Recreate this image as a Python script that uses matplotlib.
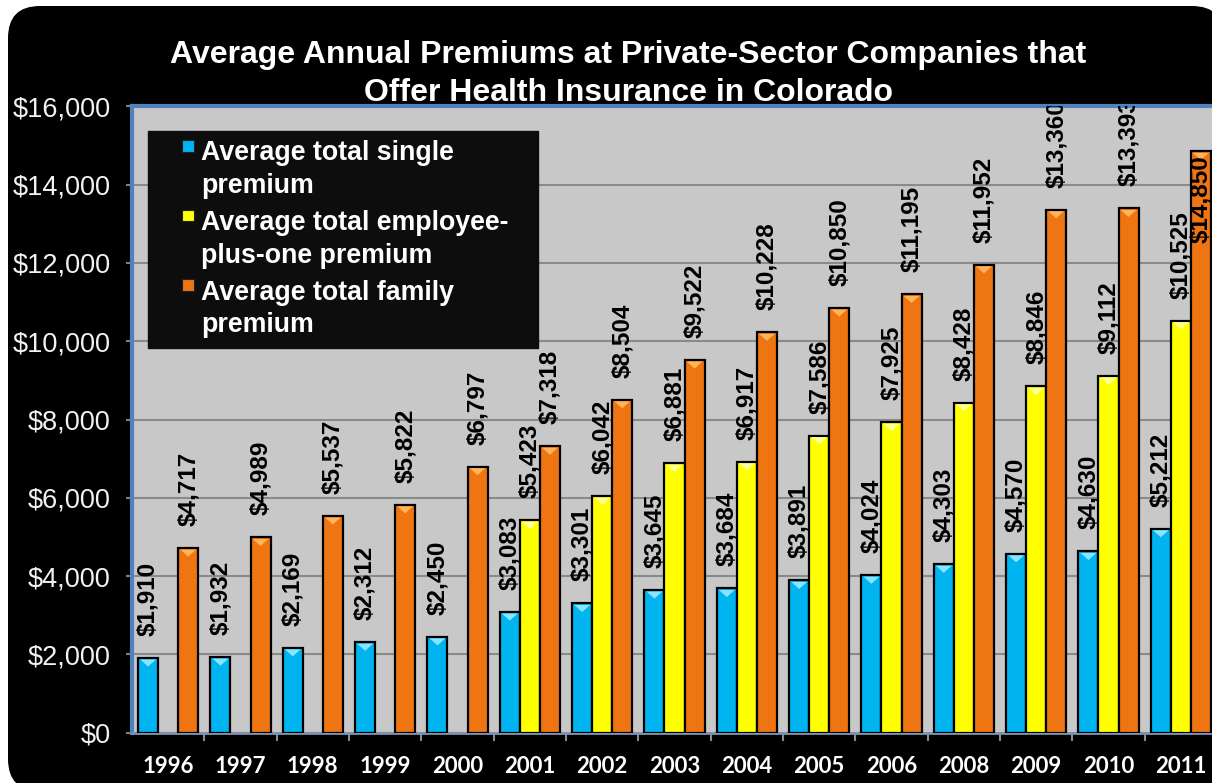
import matplotlib.pyplot as plt
import numpy as np
from matplotlib.patches import FancyBboxPatch, Rectangle, Patch
from matplotlib.legend_handler import HandlerBase
from matplotlib.transforms import IdentityTransform

# Average annual premiums (USD), Colorado private-sector employers
years = ['1996', '1997', '1998', '1999', '2000', '2001', '2002', '2003',
         '2004', '2005', '2006', '2008', '2009', '2010', '2011']
single = [1910, 1932, 2169, 2312, 2450, 3083, 3301, 3645, 3684, 3891,
          4024, 4303, 4570, 4630, 5212]
plus_one = [np.nan, np.nan, np.nan, np.nan, np.nan, 5423, 6042, 6881, 6917,
            7586, 7925, 8428, 8846, 9112, 10525]
family = [4717, 4989, 5537, 5822, 6797, 7318, 8504, 9522, 10228, 10850,
          11195, 11952, 13360, 13393, 14850]

series_names = ['Average total single\npremium',
                'Average total employee-\nplus-one premium',
                'Average total family\npremium']
colors = ['#00b4f0', '#ffff00', '#ef7412']
bevel_colors = ['#8be4ff', '#ffff9a', '#ffb45a']

ARIAL = 'Liberation Sans'


class SquareHandler(HandlerBase):
    # small square marker next to the first line of a wrapped label
    def create_artists(self, legend, orig_handle, xdescent, ydescent,
                       width, height, fontsize, trans):
        s = 0.42 * fontsize
        x0 = width - xdescent - s
        y0 = -ydescent + 1.05 * fontsize
        sq = Rectangle((x0, y0), s, s, facecolor=orig_handle.get_facecolor(),
                       edgecolor='#202020', linewidth=0.8, transform=trans)
        return [sq]


fig = plt.figure(figsize=(12.12, 7.83), dpi=100, facecolor='white')

# black rounded panel behind everything
panel = FancyBboxPatch((8, -8), 1216, 785,
                       boxstyle='round,pad=0,rounding_size=32',
                       transform=IdentityTransform(), facecolor='black',
                       edgecolor='none', zorder=-5)
fig.add_artist(panel)

ax = fig.add_axes([132 / 1212, 50.3 / 783, 1085 / 1212, 626.4 / 783])
ax.set_facecolor('#c8c8c8')

x = np.arange(len(years))
w = 0.277
bevel_h = 220  # depth of the lighter wedge at each bar top, in data units
all_series = [single, plus_one, family]
for i, (vals, c, bc) in enumerate(zip(all_series, colors, bevel_colors)):
    vals = np.array(vals, dtype=float)
    ok = ~np.isnan(vals)
    xs = x[ok] + (i - 1) * w
    ax.bar(xs, vals[ok], w, color=c, edgecolor='black', linewidth=1.6,
           zorder=3)
    for xi, v in zip(xs, vals[ok]):
        ax.fill([xi - w / 2 + 0.03, xi + w / 2 - 0.03, xi],
                [v - 40, v - 40, v - bevel_h], color=bc, lw=0, zorder=4)
        label = f'${v:,.0f}'
        if v > 14000:
            ax.annotate(label, (xi, v), xytext=(0, -4),
                        textcoords='offset pixels', rotation=90,
                        ha='center', va='top', fontsize=17.5,
                        fontweight='bold', family=ARIAL, color='black',
                        zorder=5)
        else:
            ax.annotate(label, (xi, v), xytext=(0, 22),
                        textcoords='offset pixels', rotation=90,
                        ha='center', va='bottom', fontsize=17.5,
                        fontweight='bold', family=ARIAL, color='black',
                        clip_on=True, zorder=5)

ax.set_xlim(-0.5, len(years) - 0.5)
ax.set_ylim(0, 16000)

yt = np.arange(0, 16001, 2000)
ax.set_yticks(yt)
ax.set_yticklabels([f'${v:,}' for v in yt], family=ARIAL, fontsize=19.5,
                   color='#f2f2f2')
ax.tick_params(axis='y', length=4.5, width=1.5, color='#808080', pad=11)

ax.set_xticks(x)
ax.set_xticklabels(years, family='Lato', fontweight='bold', fontsize=16,
                   color='white')
ax.set_xticks(x[:-1] + 0.5, minor=True)
ax.tick_params(axis='x', which='major', length=0, pad=17)
ax.tick_params(axis='x', which='minor', length=6, width=1.5,
               color='#8090a8')

ax.yaxis.grid(True, color='#8a8a8a', linewidth=1.5)
ax.set_axisbelow(True)

for side in ['top', 'left']:
    ax.spines[side].set_color('#4f81bd')
    ax.spines[side].set_linewidth(3)
ax.spines['bottom'].set_color('#7f93b0')
ax.spines['bottom'].set_linewidth(2)
ax.spines['right'].set_visible(False)

fig.text(628 / 1212, 1 - 74 / 783,
         'Average Annual Premiums at Private-Sector Companies that\n'
         'Offer Health Insurance in Colorado',
         ha='center', va='center', family=ARIAL, fontweight='bold',
         fontsize=23, color='white', linespacing=1.36)

handles = [Patch(facecolor=c) for c in colors]
leg = ax.legend(handles, series_names, loc='upper left',
                bbox_to_anchor=(148 / 1212, 1 - 345 / 783, 390 / 1212, 214 / 783),
                bbox_transform=fig.transFigure, mode='expand',
                borderaxespad=0, borderpad=0.35, handlelength=1.35,
                handleheight=0.7, handletextpad=0.27, labelspacing=0.41,
                frameon=True, fancybox=False, facecolor='#0d0d0d',
                edgecolor='#0d0d0d', framealpha=1,
                prop=dict(family=ARIAL, weight='bold', size=19.3),
                labelcolor='white', handler_map={Patch: SquareHandler()})
for t in leg.get_texts():
    t.set_linespacing(1.33)
leg.set_zorder(10)

fig.savefig('out.png', dpi=100, facecolor='white')
